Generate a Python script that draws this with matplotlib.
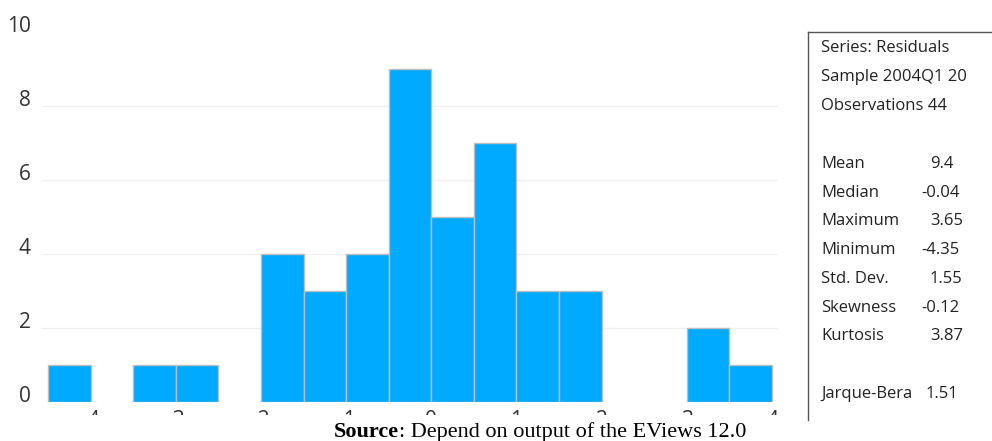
import matplotlib
matplotlib.use("Agg")
import matplotlib.pyplot as plt
from matplotlib.transforms import Bbox, TransformedBbox, ScaledTranslation
import numpy as np

# histogram of residuals: bin edges and counts
bin_edges = [-4.5, -4.0, -3.5, -3.0, -2.5, -2.0, -1.5, -1.0, -0.5,
             0.0, 0.5, 1.0, 1.5, 2.0, 2.5, 3.0, 3.5, 4.0]
counts = [1, 0, 1, 1, 0, 4, 3, 4, 9, 5, 7, 3, 3, 0, 0, 2, 1]
x_ticks = [-4, -3, -2, -1, 0, 1, 2, 3, 4]
y_ticks = [0, 2, 4, 6, 8, 10]

stat_header = ["Series: Residuals", "Sample 2004Q1 20", "Observations 44"]
stat_names = ["Mean", "Median", "Maximum", "Minimum", "Std. Dev.",
              "Skewness", "Kurtosis"]
stat_values = ["9.4", "-0.04", "3.65", "-4.35", "1.55", "-0.12", "3.87"]
jb_name, jb_value = "Jarque-Bera", "1.51"

W, H = 992, 441
fig = plt.figure(figsize=(W / 100, H / 100), dpi=100)


def px(x, y):
    return x / W, 1 - y / H


ui_font = "Open Sans"
bar_color = "#00aaff"

ax = fig.add_axes([42 / W, 39 / H, (778 - 42) / W, (402 - 32) / H])
ax.set_xlim(-4.57, 4.07)
ax.set_ylim(0, 10)
for s in ax.spines.values():
    s.set_visible(False)

for g in [2, 4, 6, 8]:
    ax.axhline(g, color="#f0f0f0", lw=1, zorder=0)

lefts = np.array(bin_edges[:-1])
widths = np.diff(bin_edges)
mask = np.array(counts) > 0
ax.bar(lefts[mask], np.array(counts)[mask], width=widths[mask], align="edge",
       color=bar_color, edgecolor="#bdbdbd", linewidth=1, zorder=2)

ax.set_yticks(y_ticks)
ax.set_yticklabels([str(v) for v in y_ticks], fontsize=15, color="#333333",
                   family=ui_font)
ax.tick_params(axis="y", length=0, pad=8)
up = ScaledTranslation(0, 8 / 100, fig.dpi_scale_trans)
for lbl in ax.get_yticklabels():
    lbl.set_transform(lbl.get_transform() + up)

# x tick labels only peek out above the caption strip
ax.set_xticks(x_ticks)
ax.set_xticklabels([str(v) for v in x_ticks], fontsize=15, color="#333333",
                   family=ui_font)
ax.tick_params(axis="x", length=0, pad=6)
clip = TransformedBbox(Bbox([[0, 1 - 415 / H], [1, 1]]), fig.transFigure)
for lbl in ax.get_xticklabels():
    lbl.set_clip_box(clip)
    lbl.set_clip_on(True)

# statistics panel
fig.add_artist(plt.Line2D([808 / W, 1], [1 - 32 / H] * 2, color="#555555",
                          lw=1, transform=fig.transFigure))
fig.add_artist(plt.Line2D([808 / W] * 2, [1 - 32 / H, 1 - 420 / H],
                          color="#555555", lw=1, transform=fig.transFigure))

txt = dict(fontsize=12, color="#222222", family=ui_font, va="center")
for i, line in enumerate(stat_header):
    fig.text(*px(821, 48 + i * 28.8), line, ha="left", **txt)
for i, (name, val) in enumerate(zip(stat_names, stat_values)):
    y = 164 + i * 28.7
    fig.text(*px(821, y), name, ha="left", **txt)
    xv = 921 if val.startswith("-") else 930
    fig.text(*px(xv, y), val, ha="left", **txt)
fig.text(*px(821, 394), jb_name, ha="left", **txt)
fig.text(*px(926, 394), jb_value, ha="left", **txt)

# caption
cap = dict(fontsize=16, color="black", family="Liberation Serif",
           va="baseline")
fig.text(*px(399, 437), "Source", ha="right", weight="bold", **cap)
fig.text(*px(399, 437), ": Depend on output of the EViews 12.0", ha="left",
         **cap)

fig.savefig("out.png", dpi=100)
